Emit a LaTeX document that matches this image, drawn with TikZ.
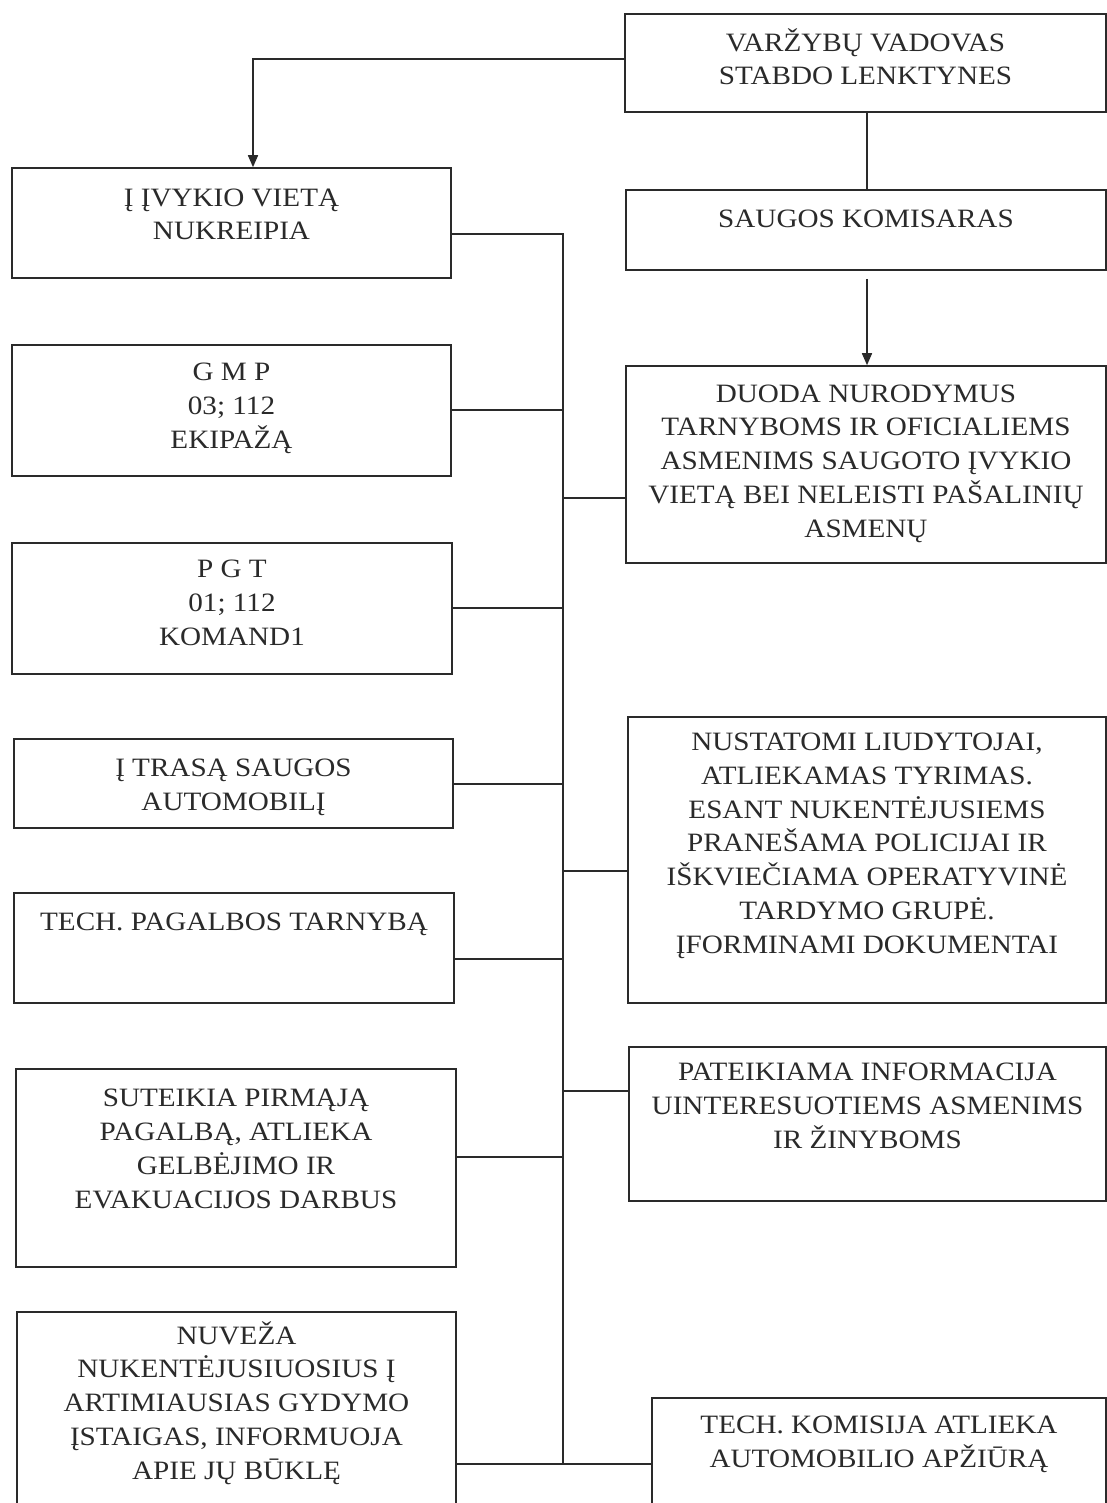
\documentclass[tikz,border=0pt]{standalone}
\usepackage{fontspec}
\setmainfont{Liberation Serif}[FakeStretch=1.1]
\usetikzlibrary{arrows.meta}
\definecolor{ink}{HTML}{2A2A2A}
\tikzset{
  box/.style={draw=ink, line width=1.6pt, inner sep=0pt, rectangle},
  txt/.style={text=ink, align=center, inner sep=0pt, anchor=base,
    font=\fontsize{26.5}{33.7}\selectfont},
  conn/.style={draw=ink, line width=1.6pt},
  arr/.style={conn, -{Triangle[length=12pt,width=10pt]}}
}
\begin{document}
\begin{tikzpicture}[x=1pt,y=-1pt]
\useasboundingbox (0,0) rectangle (1107,1503);
\fill[white] (0,0) rectangle (1107,1503);
% right column boxes
\node[box, minimum width=481pt, minimum height=98pt]  (vad)   at (865.5,63) {};
\node[box, minimum width=480pt, minimum height=80pt]  (saug)  at (866,230) {};
\node[box, minimum width=480pt, minimum height=197pt] (duoda) at (866,464.5) {};
\node[box, minimum width=478pt, minimum height=286pt] (nust)  at (867,860) {};
\node[box, minimum width=477pt, minimum height=154pt] (pat)   at (867.5,1124) {};
\node[box, minimum width=454pt, minimum height=132pt] (tk)    at (879,1464) {};
% left column boxes
\node[box, minimum width=439pt, minimum height=110pt] (ivy)   at (231.5,223) {};
\node[box, minimum width=439pt, minimum height=131pt] (gmp)   at (231.5,410.5) {};
\node[box, minimum width=440pt, minimum height=131pt] (pgt)   at (232,608.5) {};
\node[box, minimum width=439pt, minimum height=89pt]  (trasa) at (233.5,783.5) {};
\node[box, minimum width=440pt, minimum height=110pt] (techp) at (234,948) {};
\node[box, minimum width=440pt, minimum height=198pt] (sut)   at (236,1168) {};
\node[box, minimum width=439pt, minimum height=218pt] (nuv)   at (236.5,1421) {};
% texts (anchor base = baseline of the last line)
\node[txt] (tvad) at (865.5,85) {VARŽYBŲ VADOVAS\\STABDO LENKTYNES};
\node[txt] (tsaug) at (866,228) {SAUGOS KOMISARAS};
\node[txt] (tduoda) at (866,537) {DUODA NURODYMUS\\TARNYBOMS IR OFICIALIEMS\\ASMENIMS SAUGOTO ĮVYKIO\\VIETĄ BEI NELEISTI PAŠALINIŲ\\ASMENŲ};
\node[txt] (tnust) at (867,953) {NUSTATOMI LIUDYTOJAI,\\ATLIEKAMAS TYRIMAS.\\ESANT NUKENTĖJUSIEMS\\PRANEŠAMA POLICIJAI IR\\IŠKVIEČIAMA OPERATYVINĖ\\TARDYMO GRUPĖ.\\ĮFORMINAMI DOKUMENTAI};
\node[txt] (tpat) at (867.5,1148) {PATEIKIAMA INFORMACIJA\\UINTERESUOTIEMS ASMENIMS\\IR ŽINYBOMS};
\node[txt] (ttk) at (879,1467) {TECH. KOMISIJA ATLIEKA\\AUTOMOBILIO APŽIŪRĄ};
\node[txt] (tivy) at (231.5,240) {Į ĮVYKIO VIETĄ\\NUKREIPIA};
\node[txt] (tgmp) at (231.5,448) {G M P\\03; 112\\EKIPAŽĄ};
\node[txt] (tpgt) at (232,645) {P G T\\01; 112\\KOMAND1};
\node[txt] (ttrasa) at (233.5,810) {Į TRASĄ SAUGOS\\AUTOMOBILĮ};
\node[txt] (ttechp) at (234,930) {TECH. PAGALBOS TARNYBĄ};
\node[txt] (tsut) at (236,1208) {SUTEIKIA PIRMĄJĄ\\PAGALBĄ, ATLIEKA\\GELBĖJIMO IR\\EVAKUACIJOS DARBUS};
\node[txt] (tnuv) at (236.5,1479) {NUVEŽA\\NUKENTĖJUSIUOSIUS Į\\ARTIMIAUSIAS GYDYMO\\ĮSTAIGAS, INFORMUOJA\\APIE JŲ BŪKLĘ};
% connectors
\coordinate (tbot) at (563,1464);
\draw[arr] ([yshift=4pt]vad.west) -| ([xshift=21.5pt]ivy.north);
\draw[conn] ([xshift=1.5pt]vad.south) -- ([xshift=1pt]saug.north);
\draw[arr] ([xshift=1pt,yshift=-8pt]saug.south) -- ([xshift=1pt]duoda.north);
\draw[conn] ([yshift=-11pt]ivy.east) -| (tbot);
\draw[conn] ([yshift=0.5pt]gmp.east) -- ([yshift=0.5pt]gmp.east -| tbot);
\draw[conn] ([yshift=0.5pt]pgt.east) -- ([yshift=0.5pt]pgt.east -| tbot);
\draw[conn] ([yshift=-0.5pt]trasa.east) -- ([yshift=-0.5pt]trasa.east -| tbot);
\draw[conn] ([yshift=-11pt]techp.east) -- ([yshift=-11pt]techp.east -| tbot);
\draw[conn] ([yshift=11pt]sut.east) -- ([yshift=11pt]sut.east -| tbot);
\draw[conn] ([yshift=-33.5pt]duoda.west) -- ([yshift=-33.5pt]duoda.west -| tbot);
\draw[conn] ([yshift=-11pt]nust.west) -- ([yshift=-11pt]nust.west -| tbot);
\draw[conn] ([yshift=33pt]pat.west) -- ([yshift=33pt]pat.west -| tbot);
\draw[conn] (nuv.east |- tk.west) -- (tk.west);
\end{tikzpicture}
\end{document}
